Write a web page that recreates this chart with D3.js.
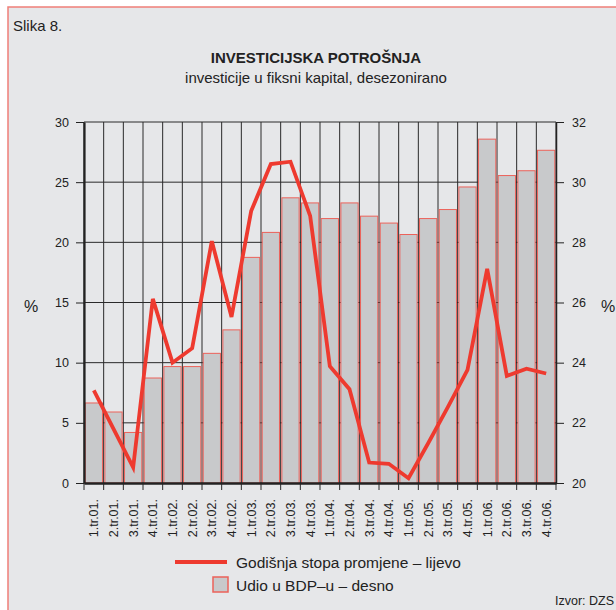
<!DOCTYPE html>
<html lang="hr">
<head>
<meta charset="UTF-8">
<title>Investicijska potrošnja</title>
<script src="https://d3js.org/d3.v7.min.js"></script>
<style>
  body { margin: 0; padding: 0; background: #ffffff; }
  svg { display: block; font-family: Helvetica, Arial, "Liberation Sans", sans-serif; }
  .axis path, .axis line { stroke: #222; }
  .axis text { font-size: 12.5px; fill: #222; }
</style>
</head>
<body>
<svg id="chart"></svg>
<script>
// quarters on the x axis
const categories = [
  "1.tr.01.", "2.tr.01.", "3.tr.01.", "4.tr.01.",
  "1.tr.02.", "2.tr.02.", "3.tr.02.", "4.tr.02.",
  "1.tr.03.", "2.tr.03.", "3.tr.03.", "4.tr.03.",
  "1.tr.04.", "2.tr.04.", "3.tr.04.", "4.tr.04.",
  "1.tr.05.", "2.tr.05.", "3.tr.05.", "4.tr.05.",
  "1.tr.06.", "2.tr.06.", "3.tr.06.", "4.tr.06."
];
// line, left axis (%)
const godisnjaStopa = [7.7, 4.5, 1.3, 15.3, 10.0, 11.2, 20.1, 13.8,
                       22.6, 26.5, 26.7, 22.2, 9.7, 7.8, 1.7, 1.6,
                       0.4, 3.3, 6.3, 9.4, 17.8, 8.9, 9.5, 9.1];
// bars, right axis (% of GDP)
const udioBDP = [22.66, 22.36, 21.68, 23.49, 23.87, 23.87, 24.31, 25.09,
                 27.50, 28.33, 29.48, 29.31, 28.79, 29.31, 28.87, 28.64,
                 28.26, 28.79, 29.09, 29.84, 31.43, 30.22, 30.38, 31.06];
const leftTicks = [0, 5, 10, 15, 20, 25, 30];
const rightTicks = [20, 22, 24, 26, 28, 30, 32];

const width = 616, height = 610;
const plot = { left: 84, right: 556, top: 122, bottom: 483 };
const red = "#ee3a2f";

const svg = d3.select("#chart").attr("width", width).attr("height", height);

// panel background with red frame
svg.append("rect")
  .attr("x", 8).attr("y", 7).attr("width", 640).attr("height", 640)
  .attr("fill", "#e6e7e9").attr("stroke", "#f07f78").attr("stroke-width", 1.5);

// titles
svg.append("text").attr("x", 13).attr("y", 31)
  .attr("font-size", 15).attr("fill", "#222").text("Slika 8.");
svg.append("text").attr("x", 316).attr("y", 63).attr("text-anchor", "middle")
  .attr("font-size", 15).attr("font-weight", "bold").attr("fill", "#222")
  .text("INVESTICIJSKA POTROŠNJA");
svg.append("text").attr("x", 316).attr("y", 83).attr("text-anchor", "middle")
  .attr("font-size", 15).attr("fill", "#222")
  .text("investicije u fiksni kapital, desezonirano");

// scales
const x = d3.scaleBand().domain(categories).range([plot.left, plot.right]).paddingInner(0.1).paddingOuter(0.05);
const xs = d3.scaleBand().domain(categories).range([plot.left, plot.right]);
const yL = d3.scaleLinear().domain([0, 30]).range([plot.bottom, plot.top]);
const yR = d3.scaleLinear().domain([20, 32]).range([plot.bottom, plot.top]);

// horizontal grid
svg.append("g").selectAll("line").data(leftTicks).join("line")
  .attr("x1", plot.left).attr("x2", plot.right)
  .attr("y1", d => yL(d)).attr("y2", d => yL(d))
  .attr("stroke", "#2a2a2a").attr("stroke-width", 1);

// vertical grid at quarter boundaries, extended below axis as ticks
const bounds = categories.map(c => xs(c)).concat([plot.right]);
svg.append("g").selectAll("line").data(bounds).join("line")
  .attr("x1", d => d).attr("x2", d => d)
  .attr("y1", plot.top).attr("y2", plot.bottom + 7)
  .attr("stroke", "#2a2a2a").attr("stroke-width", 1);

// bars
svg.append("g").selectAll("rect").data(udioBDP).join("rect")
  .attr("x", (d, i) => xs(categories[i]) + 1.2)
  .attr("width", xs.bandwidth() - 2.4)
  .attr("y", d => yR(d))
  .attr("height", d => plot.bottom - yR(d))
  .attr("fill", "#c8c9cb")
  .attr("stroke", "#ec625a").attr("stroke-width", 1);

// left axis
const axL = svg.append("g").attr("class", "axis")
  .attr("transform", `translate(${plot.left},0)`)
  .call(d3.axisLeft(yL).tickValues(leftTicks).tickSize(8).tickSizeOuter(0).tickPadding(7));
axL.select(".domain").attr("stroke", "#111").attr("stroke-width", 2.2);

// right axis
const axR = svg.append("g").attr("class", "axis")
  .attr("transform", `translate(${plot.right},0)`)
  .call(d3.axisRight(yR).tickValues(rightTicks).tickSize(8).tickSizeOuter(0).tickPadding(8));
axR.select(".domain").attr("stroke", "#444").attr("stroke-width", 1.5);

// bottom axis with rotated quarter labels
const axB = svg.append("g").attr("class", "axis")
  .attr("transform", `translate(0,${plot.bottom})`)
  .call(d3.axisBottom(xs).tickSize(0).tickSizeOuter(0));
axB.select(".domain").attr("stroke", "#111").attr("stroke-width", 2.6);
axB.selectAll("text")
  .attr("font-size", 11.5)
  .attr("text-anchor", "end")
  .attr("transform", "rotate(-90)")
  .attr("x", -16).attr("y", 0).attr("dy", "0.35em");

// line
const line = d3.line()
  .x((d, i) => xs(categories[i]) + xs.bandwidth() / 2)
  .y(d => yL(d));
svg.append("path").datum(godisnjaStopa)
  .attr("d", line)
  .attr("fill", "none").attr("stroke", red)
  .attr("stroke-width", 3.8).attr("stroke-linejoin", "miter");

// % labels
svg.append("text").attr("x", 31).attr("y", 312).attr("text-anchor", "middle")
  .attr("font-size", 16).attr("fill", "#222").text("%");
svg.append("text").attr("x", 608).attr("y", 312).attr("text-anchor", "middle")
  .attr("font-size", 16).attr("fill", "#222").text("%");

// legend
const lg = svg.append("g");
lg.append("line").attr("x1", 175).attr("x2", 227).attr("y1", 562).attr("y2", 562)
  .attr("stroke", red).attr("stroke-width", 3.8);
lg.append("text").attr("x", 236).attr("y", 568).attr("font-size", 15.5).attr("fill", "#222")
  .text("Godišnja stopa promjene – lijevo");
lg.append("rect").attr("x", 213).attr("y", 577).attr("width", 15).attr("height", 15)
  .attr("fill", "#c8c9cb").attr("stroke", "#ec625a").attr("stroke-width", 1.5);
lg.append("text").attr("x", 236).attr("y", 591).attr("font-size", 15.5).attr("fill", "#222")
  .text("Udio u BDP–u – desno");

svg.append("text").attr("x", 555).attr("y", 605).attr("font-size", 12.5).attr("fill", "#222")
  .text("Izvor: DZS");
</script>
</body>
</html>
